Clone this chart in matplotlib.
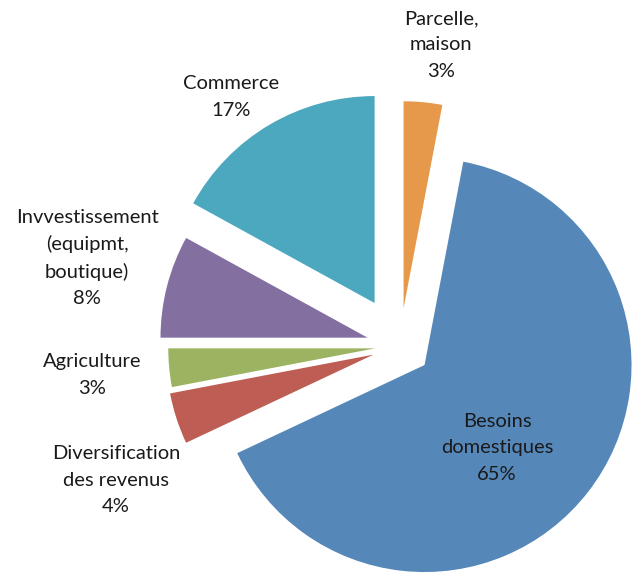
import matplotlib.pyplot as plt

# data (clockwise from 12 o'clock)
labels = ["Parcelle,\nmaison", "Besoins\ndomestiques", "Diversification\ndes revenus",
          "Agriculture", "Invvestissement\n(equipmt,\nboutique)", "Commerce"]
values = [3, 65, 4, 3, 8, 17]
colors = ["#E6994B", "#5587B9", "#BD5D53", "#9CB461", "#846FA1", "#4BA8BE"]
explode = [0.183, 0.15, 0.135, 0.12, 0.162, 0.241]

# label anchor positions in pixels (x, y from top)
label_pos = [(441, 45), (497, 448), (116, 480), (92, 375), (87, 258), (231, 97)]

W, H = 632, 581
R = 207.0          # pie radius in pixels
CX, CY = 400, 346  # pie centre in pixels

plt.rcParams['font.family'] = ['Lato', 'DejaVu Sans']

fig = plt.figure(figsize=(W / 100, H / 100), dpi=100)
ax = fig.add_axes([0, 0, 1, 1])

ax.pie(values, colors=colors, explode=explode, startangle=90, counterclock=False,
       radius=1, wedgeprops=dict(linewidth=0))
ax.set_xlim(-CX / R, (W - CX) / R)
ax.set_ylim((CY - H) / R, CY / R)
ax.set_aspect('equal')
ax.axis('off')

for lab, v, (px, py) in zip(labels, values, label_pos):
    fig.text(px / W, 1 - py / H, f"{lab}\n{v}%", ha='center', va='center',
             fontsize=14.5, linespacing=1.65, color='#1a1a1a')

fig.savefig("out.png", dpi=100)
